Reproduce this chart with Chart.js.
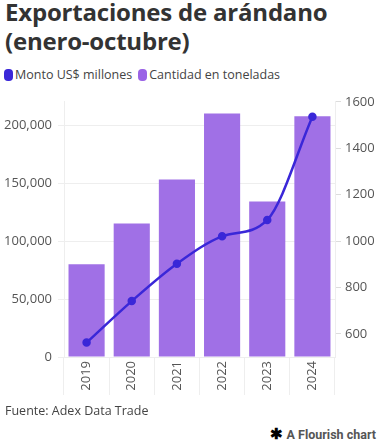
<!DOCTYPE html>
<html>
<head>
<meta charset="utf-8">
<script src="https://cdn.jsdelivr.net/npm/chart.js@4"></script>
<style>
  body{ margin:0; width:384px; height:448px; background:#fff; font-family:"Open Sans", sans-serif; position:relative; overflow:hidden; }
  h1{ position:absolute; left:5px; top:-3px; margin:0; font-size:24px; line-height:29px; font-weight:700; color:#333; letter-spacing:-0.2px; }
  .legend{ position:absolute; left:4px; top:66px; font-size:12.5px; color:#444; display:flex; gap:6px; }
  .legend span{ display:flex; align-items:center; }
  .legend i{ display:inline-block; width:9px; height:12px; border-radius:4px; margin-right:2px; }
  #wrap{ position:absolute; left:0; top:88px; width:384px; height:318px; }
  .src{ position:absolute; left:5px; top:402px; font-size:12.5px; color:#444; }
  .fl{ position:absolute; right:8px; top:425px; font-size:12.5px; font-weight:700; color:#555; font-family:Roboto, sans-serif; }
  .fl b{ color:#000; font-size:15px; }
</style>
</head>
<body>
<h1>Exportaciones de arándano<br>(enero-octubre)</h1>
<div class="legend">
  <span><i style="background:#3a27d8"></i>Monto US$ millones</span>
  <span><i style="background:#9a63e6"></i>Cantidad en toneladas</span>
</div>
<div id="wrap"><canvas id="chart"></canvas></div>
<div class="src">Fuente: Adex Data Trade</div>
<div class="fl"><b>✱</b> A Flourish chart</div>
<script>
const years = ['2019','2020','2021','2022','2023','2024'];
const tonnes = [80000, 115000, 153000, 210000, 134000, 207500];
const usdMillions = [562, 741, 902, 1020, 1091, 1536];
const leftTicks = [0, 50000, 100000, 150000, 200000];
const rightTicks = [600, 800, 1000, 1200, 1400, 1600];

const tickFont = { family:'"Open Sans", sans-serif', size:13 };

new Chart(document.getElementById('chart'), {
  data: {
    labels: years,
    datasets: [
      {
        type: 'line',
        label: 'Monto US$ millones',
        data: usdMillions,
        yAxisID: 'y2',
        borderColor: '#3a27d8',
        backgroundColor: '#3a27d8',
        borderWidth: 2.5,
        pointRadius: 3,
        pointHoverRadius: 3,
        cubicInterpolationMode: 'monotone',
        order: 0
      },
      {
        type: 'bar',
        label: 'Cantidad en toneladas',
        data: tonnes,
        yAxisID: 'y',
        backgroundColor: '#a070e6',
        categoryPercentage: 0.8,
        barPercentage: 1,
        order: 1
      }
    ]
  },
  options: {
    responsive: true,
    maintainAspectRatio: false,
    animation: false,
    layout: { padding: { top: 12, right: 0, left: 0, bottom: 0 } },
    plugins: { legend: { display:false }, tooltip: { enabled:false } },
    scales: {
      x: {
        grid: { display:true, drawOnChartArea:false, color:'#eee', tickLength:38, offset:true },
        border: { display:false },
        ticks: { font: tickFont, color:'#555', minRotation:90, maxRotation:90, padding:-34 },
        afterFit: s => { s.height = 49; }
      },
      y: {
        position: 'left',
        min: 0, max: 220000,
        afterBuildTicks: s => { s.ticks = leftTicks.map(v => ({ value:v })); },
        grid: { color:'#eee', tickLength:6 },
        border: { color:'#eee' },
        ticks: { font: tickFont, color:'#555', padding:6, callback: v => v.toLocaleString('en-US') },
        afterFit: s => { s.width = 64; }
      },
      y2: {
        position: 'right',
        min: 500, max: 1600,
        afterBuildTicks: s => { s.ticks = rightTicks.map(v => ({ value:v })); },
        grid: { drawOnChartArea:false, color:'#ddd', tickLength:6 },
        border: { color:'#eee' },
        ticks: { font: tickFont, color:'#555', padding:4, callback: v => String(v) },
        afterFit: s => { s.width = 49; }
      }
    }
  }
});
</script>
</body>
</html>
